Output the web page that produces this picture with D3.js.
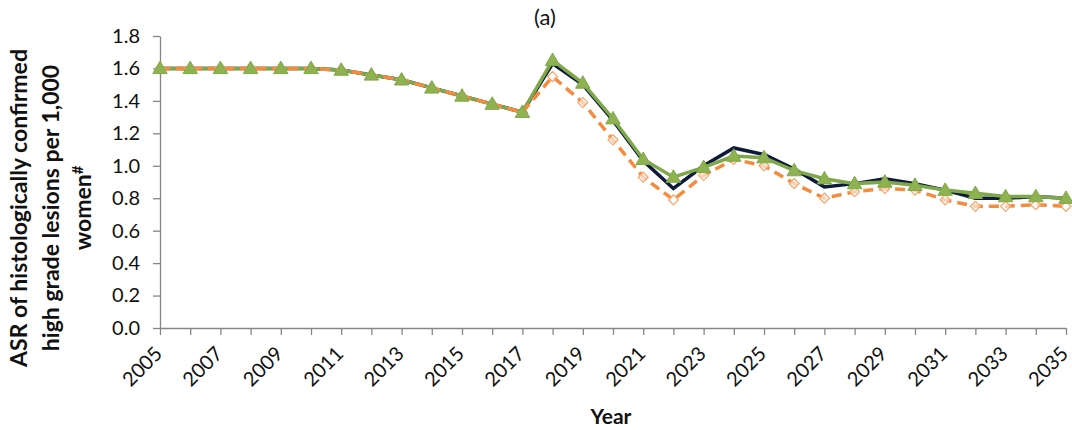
<!DOCTYPE html>
<html>
<head>
<meta charset="utf-8">
<script src="https://cdn.jsdelivr.net/npm/d3@7"></script>
<style>
  body { margin: 0; background: #fff; }
  #chart { width: 1072px; height: 430px; }
  text { font-family: Lato, "Open Sans", sans-serif; }
</style>
</head>
<body>
<div id="chart"></div>
<script>
const years = d3.range(2005, 2036);
const yTicks = [0, 0.2, 0.4, 0.6, 0.8, 1.0, 1.2, 1.4, 1.6, 1.8];

const navy = [1.6, 1.6, 1.6, 1.6, 1.6, 1.6, 1.59, 1.56, 1.53, 1.48, 1.43, 1.38, 1.33,
  1.63, 1.50, 1.28, 1.03, 0.86, 1.00, 1.11, 1.07, 0.98, 0.87, 0.89, 0.92, 0.89,
  0.85, 0.80, 0.80, 0.81, 0.80];
const orange = [1.6, 1.6, 1.6, 1.6, 1.6, 1.6, 1.59, 1.56, 1.53, 1.48, 1.43, 1.38, 1.33,
  1.55, 1.39, 1.16, 0.93, 0.79, 0.94, 1.04, 1.00, 0.89, 0.80, 0.84, 0.86, 0.85,
  0.79, 0.75, 0.75, 0.76, 0.75];
const green = [1.6, 1.6, 1.6, 1.6, 1.6, 1.6, 1.59, 1.56, 1.53, 1.48, 1.43, 1.38, 1.33,
  1.65, 1.51, 1.29, 1.04, 0.93, 0.99, 1.06, 1.05, 0.97, 0.92, 0.89, 0.90, 0.88,
  0.85, 0.83, 0.81, 0.81, 0.80];

const margin = { top: 36, right: 6, bottom: 102, left: 160 };
const width = 1072, height = 430;
const w = width - margin.left - margin.right;
const h = height - margin.top - margin.bottom;

const svg = d3.select("#chart").append("svg")
  .attr("width", width).attr("height", height);
const g = svg.append("g").attr("transform", `translate(${margin.left},${margin.top})`);

const x = d3.scaleLinear().domain([2005, 2035]).range([0, w]);
const y = d3.scaleLinear().domain([0, 1.8]).range([h, 0]);

// axes
const axisColor = "#868686";
const yAxis = g.append("g").call(d3.axisLeft(y).tickValues(yTicks).tickFormat(d3.format(".1f")).tickSize(7).tickSizeOuter(0));
const xAxis = g.append("g").attr("transform", `translate(0,${h})`)
  .call(d3.axisBottom(x).tickValues(years).tickFormat(d => (d - 2005) % 2 === 0 ? d : "").tickSize(7).tickSizeOuter(0));
[xAxis, yAxis].forEach(a => {
  a.select(".domain").attr("stroke", axisColor).attr("stroke-width", 1.3);
  a.selectAll(".tick line").attr("stroke", axisColor).attr("stroke-width", 1.3);
  a.selectAll("text").attr("fill", "#111").style("font-size", "20px");
});
yAxis.selectAll("text").attr("x", -20);
xAxis.selectAll("text")
  .attr("text-anchor", "end")
  .attr("x", 0).attr("y", 0).attr("dy", 0)
  .attr("transform", "translate(3,27) rotate(-45)");

const line = d3.line().x((d, i) => x(years[i])).y(d => y(d));

g.append("path").datum(navy).attr("d", line)
  .attr("fill", "none").attr("stroke", "#0d1a3a").attr("stroke-width", 3.5);
g.append("path").datum(green).attr("d", line)
  .attr("fill", "none").attr("stroke", "#7ea84a").attr("stroke-width", 3.5);
g.append("path").datum(orange).attr("d", line)
  .attr("fill", "none").attr("stroke", "#f58b3c").attr("stroke-width", 3.5)
  .attr("stroke-dasharray", "10,6");

// markers
g.selectAll(".dia").data(orange).enter().append("path")
  .attr("class", "dia")
  .attr("d", d3.symbol().type(d3.symbolSquare).size(50))
  .attr("transform", (d, i) => `translate(${x(years[i])},${y(d)}) rotate(45)`)
  .attr("fill", "#fff").attr("fill-opacity", 0.6)
  .attr("stroke", "#f8a46a").attr("stroke-width", 1.2);
g.selectAll(".tri").data(green).enter().append("path")
  .attr("class", "tri")
  .attr("d", d3.symbol().type(d3.symbolTriangle).size(90))
  .attr("transform", (d, i) => `translate(${x(years[i])},${y(d) + 1})`)
  .attr("fill", "#8db24f").attr("stroke", "#7ea84a").attr("stroke-width", 1);

// title & labels
svg.append("text").attr("x", 545).attr("y", 25).attr("text-anchor", "middle")
  .style("font-size", "22px").attr("fill", "#111").text("(a)");
svg.append("text").attr("x", 611).attr("y", 424).attr("text-anchor", "middle")
  .style("font-size", "21px").style("font-weight", "bold").attr("fill", "#111").text("Year");

const yl = svg.append("text").attr("transform", "translate(0,208) rotate(-90)")
  .attr("text-anchor", "middle").style("font-size", "23px").style("font-weight", "bold")
  .attr("fill", "#111");
yl.append("tspan").attr("x", 0).attr("y", 27).text("ASR of histologically confirmed");
yl.append("tspan").attr("x", 0).attr("y", 59).text("high grade lesions per 1,000");
yl.append("tspan").attr("x", 0).attr("y", 91).text("women");
yl.append("tspan").attr("dy", -8).style("font-size", "15px").text("#");
</script>
</body>
</html>
